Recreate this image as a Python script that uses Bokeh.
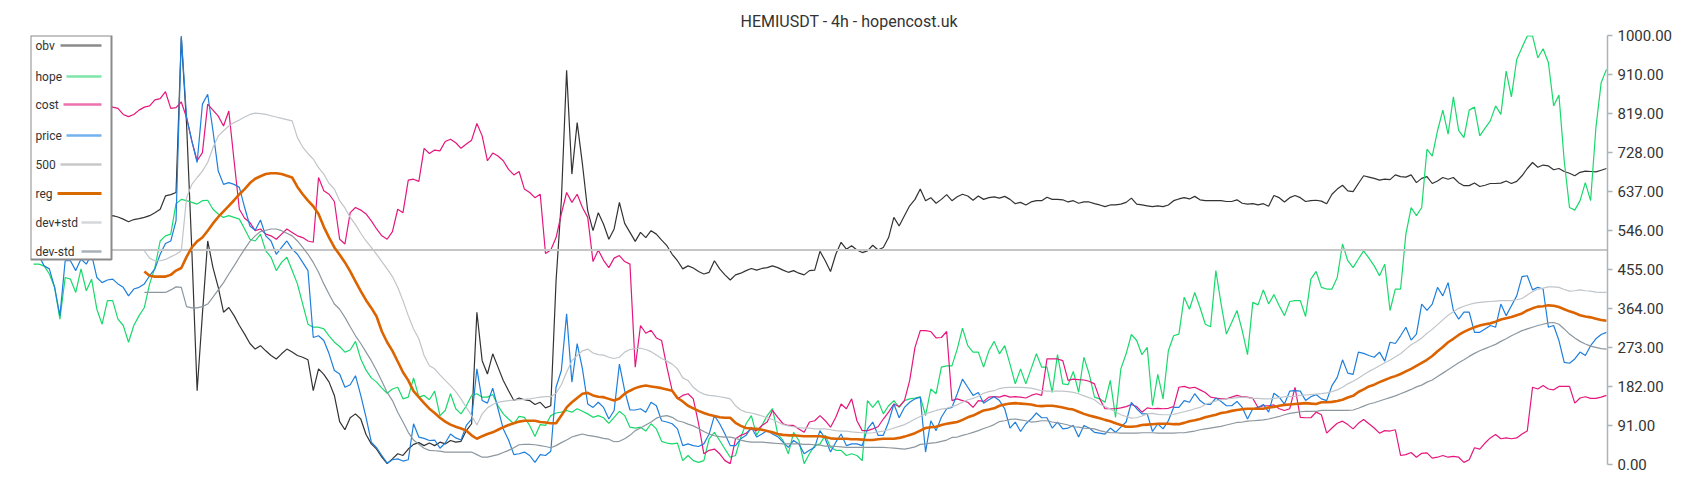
import numpy as np
from bokeh.plotting import figure
from bokeh.models import (Range1d, FixedTicker, NumeralTickFormatter, BoxAnnotation, Label)
from bokeh.embed import file_html
from bokeh.resources import INLINE

TITLE = "HEMIUSDT - 4h - hopencost.uk"
TICKS = [0, 91, 182, 273, 364, 455, 546, 637, 728, 819, 910, 1000]
LEVEL = 500

OBV = [
599, 595, 591, 587, 584, 585, 582, 580, 584, 581, 577, 580, 582, 580, 577,
580, 577, 572, 566, 571, 573, 576, 580, 587, 595, 626, 629, 634,
995, 793, 498, 172, 351, 521, 459, 413, 355, 366, 347, 324, 304, 282, 269, 277, 265, 254, 246, 258, 269, 262, 254, 250, 244, 172, 223, 210, 192, 161,
100, 81, 109, 118, 106, 70, 48, 36, 17, 2, 13, 25, 21, 36, 47, 51, 44, 50, 44, 52, 48, 56, 52, 54, 79, 95, 355, 242, 211, 258, 227, 196, 172, 149, 155, 151, 149, 140, 145, 132, 137, 428, 615, 919, 677, 797, 700, 591, 545, 587, 560, 525, 549, 611, 562, 541, 520, 541, 529, 545, 537, 523, 510, 490,
475, 456, 463, 458, 450, 444, 448, 475, 456, 442, 430, 442, 446, 452, 457, 453, 457, 459, 463, 459, 453, 448, 452, 446, 442, 452, 453, 497, 475, 450, 490, 518, 502, 510, 500, 494, 498, 511, 500, 506, 529, 576, 556, 580, 603, 618, 642, 615, 622, 609, 618, 629, 615, 624, 630, 626, 616, 626, 618, 622, 624, 621,
625, 618, 608, 611, 605, 612, 615, 615, 623, 618, 618, 617, 612, 615, 609, 612, 612, 608, 605, 601, 605, 605, 607, 611, 621, 607, 605, 603, 601, 603, 601, 605, 615, 619, 622, 619, 625, 617, 615, 615, 615, 615, 613, 613, 617, 609, 607, 608, 605, 608, 602, 627, 622, 612, 622, 627, 622, 613, 615, 616,
614, 608, 630, 642, 651, 638, 636, 655, 673, 670, 667, 663, 665, 664, 675, 671, 670, 675, 657, 667, 671, 655, 661, 669, 665, 669, 657, 650, 650, 656, 648, 651, 655, 655, 656, 661, 655, 660, 673, 690, 704, 693, 698, 696, 687, 690, 683, 679, 673, 681, 684, 683, 682, 686, 690]

HOPE = [
467, 467, 463, 444, 413, 339, 436, 432, 401, 456, 405, 432, 362, 327, 382, 382, 339, 324, 285, 324, 347, 366, 421, 459, 521, 533, 537, 608, 618, 615, 611, 607, 615, 616, 595, 584, 576, 580, 576, 572, 549, 525, 521, 537, 498, 483, 452, 471, 483, 452, 421, 374, 327, 320, 320, 316, 300, 285,
275, 262, 267, 287, 246, 220, 202, 192, 178, 166, 176, 180, 153, 157, 202, 157, 161, 151, 171, 114, 126, 165, 130, 118, 137, 161, 165, 157, 157, 163, 137, 118, 106, 95, 112, 110, 91, 65, 93, 91, 114, 120, 122, 126, 122, 130, 124, 118, 110, 114, 109, 96, 110, 124, 114, 87, 85, 87, 78, 95, 83, 54, 50, 48,
50, 9, 21, 9, 5, 9, 60, 75, 56, 36, 17, 21, 64, 95, 114, 68, 91, 114, 130, 71, 56, 25, 75, 56, 2, 25, 44, 48, 68, 40, 33, 33, 21, 25, 21, 9, 149, 133, 149, 118, 137, 149, 133, 149, 153, 155, 158, 114, 176, 165, 227, 230, 230, 269, 318, 277, 262, 262, 227, 265, 287, 258,
277, 234, 188, 223, 188, 223, 258, 227, 227, 168, 256, 188, 186, 217, 168, 250, 211, 157, 153, 145, 196, 110, 223, 258, 303, 289, 256, 273, 137, 210, 153, 265, 300, 304, 390, 362, 401, 366, 327, 321, 452, 374, 304, 331, 359, 312, 256, 378, 372, 407, 374, 396, 370, 347, 380, 382, 382, 345, 432, 450,
413, 409, 409, 436, 514, 475, 459, 479, 498, 481, 463, 440, 467, 359, 409, 409, 537, 599, 580, 599, 735, 719, 778, 826, 770, 857, 779, 762, 826, 833, 766, 784, 801, 836, 816, 917, 857, 944, 972, 999, 999, 948, 969, 937, 836, 861, 708, 599, 593, 615, 657, 615, 785, 890, 921]

COST = [
840, 843, 847, 840, 836, 841, 847, 840, 836, 832, 840, 843, 840, 836, 838, 833, 830, 816, 811, 816, 826, 833, 836, 850, 853, 869, 830, 832, 845, 809, 754, 708, 727, 840, 826, 812, 789, 824, 708, 595, 574, 564, 545, 549, 537, 533, 525, 537, 549, 541, 533, 529, 521, 518, 669, 638, 630, 613,
525, 514, 587, 599, 593, 584, 568, 549, 533, 525, 543, 595, 587, 663, 665, 660, 737, 725, 733, 731, 753, 758, 750, 737, 747, 756, 795, 766, 708, 726, 719, 708, 688, 675, 683, 642, 634, 622, 630, 492, 500, 529, 584, 634, 611, 630, 599, 576, 473, 500, 476, 459, 481, 487, 473, 467, 227, 324, 306, 313, 295, 289, 227, 172,
153, 161, 165, 153, 95, 25, 33, 36, 25, 9, 2, 60, 68, 73, 83, 79, 91, 99, 126, 110, 95, 91, 91, 83, 75, 99, 102, 114, 102, 87, 110, 141, 130, 153, 102, 79, 79, 83, 88, 106, 122, 141, 135, 149, 196, 273, 312, 312, 310, 295, 296, 310, 149, 153, 149, 145, 133, 149, 147, 157, 158, 157,
161, 157, 158, 157, 155, 161, 165, 161, 246, 246, 246, 242, 196, 199, 198, 197, 194, 188, 153, 130, 130, 130, 132, 135, 140, 135, 122, 132, 130, 131, 130, 131, 135, 180, 182, 178, 180, 174, 168, 157, 155, 153, 153, 157, 161, 158, 157, 154, 133, 137, 137, 139, 130, 126, 130, 180, 110, 109, 109, 122,
116, 73, 85, 96, 101, 93, 83, 96, 105, 95, 85, 73, 79, 78, 81, 21, 23, 28, 17, 26, 27, 15, 17, 21, 17, 19, 17, 5, 11, 39, 36, 50, 62, 70, 60, 62, 60, 62, 71, 78, 180, 176, 184, 176, 174, 182, 182, 182, 143, 155, 158, 154, 154, 157, 161]

PRICE = [
490, 487, 463, 456, 413, 347, 475, 475, 452, 479, 467, 490, 436, 424, 430, 432, 421, 413, 393, 409, 413, 421, 440, 456, 490, 515, 521, 568, 999, 809, 754, 704, 840, 863, 778, 684, 653, 657, 653, 646, 599, 556, 546, 570, 533, 521, 490, 506, 521, 502, 490, 471, 452, 296, 300, 289, 258, 219,
211, 180, 186, 207, 161, 110, 52, 39, 21, 3, 11, 13, 8, 11, 95, 64, 61, 56, 57, 38, 50, 71, 62, 57, 91, 106, 223, 149, 143, 178, 130, 83, 57, 23, 25, 29, 21, 5, 23, 21, 31, 180, 219, 351, 192, 282, 223, 141, 133, 145, 133, 106, 126, 234, 172, 127, 127, 130, 122, 145, 137, 102, 99, 95,
83, 44, 48, 44, 42, 48, 71, 114, 95, 71, 44, 44, 60, 68, 87, 64, 71, 79, 71, 65, 52, 40, 56, 48, 25, 33, 40, 79, 60, 29, 52, 71, 44, 48, 48, 44, 83, 99, 68, 68, 99, 141, 109, 133, 145, 153, 157, 29, 102, 79, 110, 130, 133, 165, 199, 180, 161, 168, 143, 151, 158, 149,
130, 85, 99, 77, 95, 106, 120, 109, 109, 85, 99, 83, 85, 91, 64, 91, 85, 75, 73, 71, 85, 75, 87, 99, 145, 130, 118, 118, 77, 95, 83, 102, 133, 133, 149, 145, 165, 149, 140, 140, 155, 147, 137, 137, 147, 133, 106, 130, 133, 140, 122, 166, 157, 141, 171, 172, 171, 149, 158, 163,
153, 149, 184, 203, 244, 213, 210, 262, 259, 254, 250, 262, 241, 285, 282, 300, 320, 290, 304, 374, 359, 374, 413, 393, 424, 359, 339, 355, 355, 308, 308, 316, 324, 320, 374, 347, 370, 393, 438, 440, 407, 413, 409, 320, 324, 289, 238, 236, 246, 262, 254, 277, 293, 303, 308]

REG = [None] * 21 + [
450, 440, 438, 438, 438, 442, 452, 458, 484, 506, 520, 529, 545, 562, 577, 590, 603, 616, 630, 642, 656, 666, 672, 677, 679, 679, 677, 673, 669, 647, 630, 615, 602, 584, 554, 529, 506,
489, 471, 450, 427, 404, 383, 365, 345, 310, 285, 265, 240, 215, 196, 171, 157, 143, 130, 120, 109, 100, 93, 88, 84, 79, 68, 60, 66, 71, 75, 81, 87, 92, 96, 100, 102, 102, 102, 99, 98, 96, 96, 114, 133, 145, 155, 165, 167, 161, 158, 157, 153, 149, 154, 165, 172, 178, 182, 184, 182, 180, 178, 175, 172,
155, 147, 137, 131, 125, 120, 116, 113, 110, 109, 109, 97, 90, 85, 84, 83, 81, 78, 75, 71, 69, 68, 68, 67, 66, 66, 66, 66, 64, 61, 60, 60, 60, 59, 59, 58, 57, 57, 59, 60, 60, 60, 62, 65, 69, 73, 79, 85, 87, 88, 92, 95, 97, 99, 104, 110, 114, 120, 126, 128, 131, 137,
140, 142, 143, 142, 141, 140, 137, 136, 137, 137, 135, 133, 130, 128, 123, 118, 114, 111, 108, 104, 101, 96, 92, 88, 88, 89, 92, 93, 94, 95, 95, 95, 94, 94, 97, 101, 103, 106, 110, 113, 116, 120, 122, 125, 127, 129, 130, 130, 130, 130, 133, 134, 137, 139, 140, 141, 142, 143, 142, 141,
145, 145, 146, 148, 151, 156, 160, 169, 175, 182, 186, 192, 197, 202, 206, 211, 217, 223, 230, 237, 244, 253, 264, 274, 285, 293, 302, 309, 315, 320, 324, 327, 329, 333, 338, 341, 344, 348, 352, 359, 364, 368, 369, 371, 370, 367, 362, 357, 353, 348, 345, 343, 340, 337, 335]

DEV_UP = [None] * 21 + [
498, 481, 475, 475, 478, 484, 490, 498, 622, 653, 669, 684, 704, 739, 766, 778, 789, 797, 803, 810, 816, 819, 818, 816, 813, 810, 807, 804, 801, 762, 740, 725, 712, 692, 677, 655, 642,
615, 598, 576, 559, 539, 521, 506, 490, 473, 456, 438, 413, 382, 347, 316, 293, 254, 230, 223, 209, 196, 184, 170, 153, 133, 114, 92, 118, 132, 140, 145, 147, 149, 150, 151, 152, 153, 155, 157, 158, 158, 166, 186, 215, 242, 254, 265, 269, 260, 256, 255, 250, 247, 250, 262, 268, 270, 271, 268, 263, 255, 247, 241, 234,
223, 202, 196, 180, 170, 164, 161, 160, 158, 156, 153, 137, 127, 122, 120, 117, 113, 109, 105, 99, 93, 90, 88, 86, 85, 85, 83, 83, 83, 81, 79, 78, 78, 76, 75, 74, 73, 74, 76, 78, 81, 85, 89, 93, 99, 106, 112, 118, 122, 126, 129, 131, 135, 139, 145, 151, 154, 159, 166, 170, 172, 177,
179, 180, 180, 180, 179, 178, 175, 172, 171, 171, 171, 171, 170, 168, 165, 160, 156, 151, 141, 135, 129, 123, 116, 112, 108, 109, 113, 118, 119, 117, 116, 116, 117, 120, 123, 126, 130, 133, 140, 144, 148, 151, 153, 154, 156, 157, 156, 154, 154, 153, 153, 154, 156, 158, 158, 159, 161, 162, 163, 164,
165, 167, 170, 174, 180, 188, 194, 201, 209, 217, 223, 230, 237, 243, 251, 258, 269, 279, 286, 295, 306, 315, 326, 337, 348, 356, 364, 369, 373, 376, 378, 379, 380, 381, 382, 382, 382, 384, 387, 395, 403, 409, 411, 414, 414, 413, 408, 404, 405, 407, 405, 404, 402, 401, 401]

DEV_DN = [None] * 21 + [
401, 401, 401, 401, 401, 407, 414, 413, 368, 365, 365, 368, 374, 390, 407, 424, 444, 463, 483, 502, 520, 533, 543, 546, 549, 549, 545, 539, 533, 521, 506, 490, 471, 448, 421, 397, 374,
362, 343, 321, 300, 282, 262, 242, 219, 194, 168, 149, 122, 99, 75, 57, 47, 38, 33, 32, 31, 29, 29, 29, 29, 29, 29, 23, 17, 17, 20, 23, 28, 33, 39, 46, 47, 47, 46, 44, 42, 39, 44, 51, 57, 64, 68, 71, 68, 66, 64, 61, 59, 53, 54, 60, 68, 79, 85, 92, 99, 108, 112, 114, 110,
102, 99, 94, 90, 84, 77, 71, 67, 65, 64, 64, 61, 57, 54, 52, 52, 52, 51, 50, 49, 48, 48, 48, 48, 47, 47, 46, 45, 43, 43, 42, 41, 40, 40, 40, 40, 40, 40, 40, 40, 39, 38, 37, 36, 38, 41, 47, 48, 50, 51, 54, 57, 63, 64, 68, 71, 75, 79, 84, 88, 93, 100,
102, 105, 106, 104, 102, 99, 100, 102, 102, 99, 97, 95, 92, 88, 87, 85, 84, 83, 79, 76, 74, 74, 73, 73, 73, 73, 74, 74, 74, 73, 73, 73, 73, 74, 74, 76, 78, 81, 83, 85, 87, 89, 92, 95, 98, 99, 101, 102, 103, 104, 106, 109, 112, 116, 119, 121, 123, 124, 124, 124,
126, 126, 126, 126, 126, 126, 127, 131, 136, 141, 144, 148, 152, 156, 160, 165, 170, 175, 181, 185, 192, 197, 205, 213, 221, 229, 237, 244, 252, 259, 265, 270, 275, 280, 287, 293, 300, 306, 312, 316, 320, 324, 327, 330, 331, 327, 316, 304, 295, 287, 281, 276, 273, 270, 269]

N = len(PRICE)
for name, arr_ in [("obv", OBV), ("hope", HOPE), ("cost", COST), ("reg", REG), ("dev+", DEV_UP), ("dev-", DEV_DN)]:
    assert len(arr_) == N, (name, len(arr_), N)

x = np.arange(N)
def arr(a):
    return np.array([np.nan if v is None else v for v in a], dtype=float)

FRAME_W, FRAME_H = 1577, 429
XR = Range1d(-0.57, N - 1 + 0.2)
YR = Range1d(0, 1000)

p = figure(frame_width=FRAME_W, frame_height=FRAME_H, x_range=XR, y_range=YR,
           output_backend="svg", toolbar_location=None,
           y_axis_location="right", x_axis_location=None,
           min_border_left=30, min_border_top=35, min_border_bottom=10, min_border_right=8,
           background_fill_color="white", border_fill_color="white")
p.outline_line_color = None
p.grid.visible = False

p.title.text = TITLE
p.title.align = "left"
p.title.offset = 710
p.title.text_font = "Roboto"
p.title.text_font_size = "16px"
p.title.text_font_style = "normal"
p.title.text_color = "#333333"

ax = p.yaxis[0]
ax.ticker = FixedTicker(ticks=TICKS)
ax.formatter = NumeralTickFormatter(format="0.00")
ax.axis_line_color = "#aab3ba"
ax.axis_line_width = 1.5
ax.major_tick_line_color = "#aab3ba"
ax.major_tick_line_width = 1.5
ax.major_tick_out = 5
ax.major_tick_in = 0
ax.minor_tick_line_color = None
ax.major_label_text_font = "Roboto"
ax.major_label_text_font_size = "15px"
ax.major_label_text_color = "#333333"
ax.major_label_standoff = 5

C_OBV, C_HOPE, C_COST, C_PRICE = "#333333", "#19d96c", "#e5167d", "#1e7fdc"
C_500, C_REG, C_UP, C_DN = "#c6c6c6", "#dc6400", "#c0c5c9", "#8c979f"

p.line(x, arr(OBV), line_color=C_OBV, line_width=1.2)
p.line(x, arr(HOPE), line_color=C_HOPE, line_width=1.2)
p.line(x, arr(COST), line_color=C_COST, line_width=1.2)
p.line(x, arr(PRICE), line_color=C_PRICE, line_width=1.2)
p.line([XR.start, XR.end], [LEVEL, LEVEL], line_color=C_500, line_width=2)
p.line(x, arr(REG), line_color=C_REG, line_width=2.6)
p.line(x, arr(DEV_UP), line_color=C_UP, line_width=1.2)
p.line(x, arr(DEV_DN), line_color=C_DN, line_width=1.2)

# legend (label left, line sample right), positioned in frame pixels
def fx(px):
    return XR.start + px * (XR.end - XR.start) / FRAME_W
def fy(py):
    return YR.end - py * (YR.end - YR.start) / FRAME_H

p.add_layout(BoxAnnotation(left=fx(0), right=fx(81), top=fy(0), bottom=fy(224),
                           fill_color="white", fill_alpha=1.0,
                           line_color="#8a8a8a", line_width=2, line_alpha=1.0))
items = [("obv", "#8a8a8a", 30, 10), ("hope", "#7ee6a8", 36, 41), ("cost", "#ee70ae", 33, 69),
         ("price", "#72b2ee", 36, 100), ("500", "#c8c8c8", 30, 129), ("reg", "#d96a00", 27, 158),
         ("dev+std", "#d4d8db", 51, 187), ("dev-std", "#a8b1b7", 51, 216)]
for label, col, x0, yc in items:
    lw = 3 if label == "reg" else 2.4
    p.add_layout(BoxAnnotation(left=fx(x0), right=fx(71), top=fy(yc - lw / 2), bottom=fy(yc + lw / 2),
                               fill_color=col, fill_alpha=1.0, line_color=None))
    p.add_layout(Label(x=fx(5), y=fy(yc), text=label, text_font="Roboto", text_font_size="12px",
                       text_color="#333333", text_baseline="middle", text_align="left"))

open("out.html", "w").write(file_html(p, INLINE))
